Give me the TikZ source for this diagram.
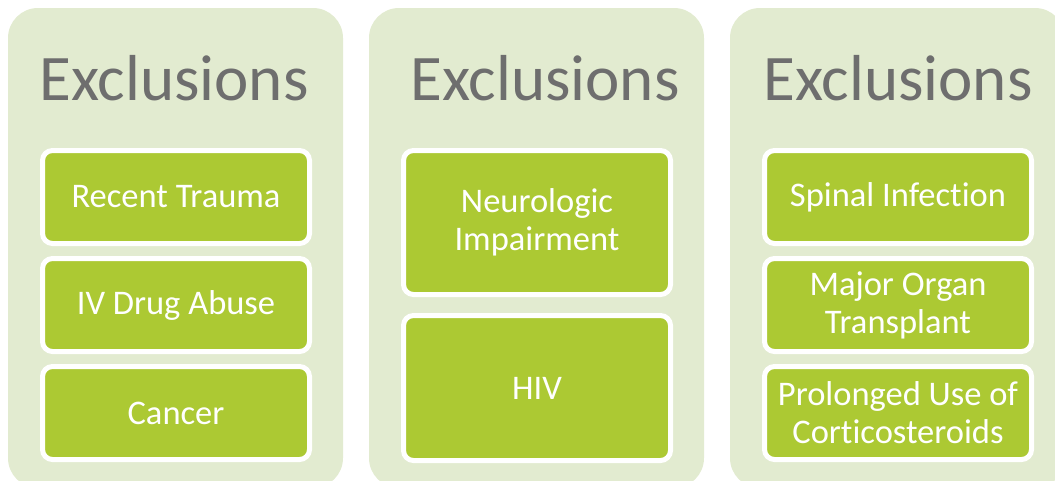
\documentclass[tikz,border=0pt]{standalone}
\usepackage{fontspec}
\setmainfont{Carlito}[Ligatures=NoCommon]
\definecolor{panelgreen}{HTML}{E2EBD0}
\definecolor{itemgreen}{HTML}{ACC933}
\definecolor{titlegray}{HTML}{6E6E6E}
\begin{document}
\begin{tikzpicture}[x=1pt,y=-1pt,
  panel/.style={fill=panelgreen,rounded corners=30pt},
  heading/.style={text=titlegray,font=\fontsize{65}{78}\selectfont,anchor=base},
  item/.style={fill=itemgreen,draw=white,line width=5pt,rounded corners=10pt,
    minimum width=267pt,minimum height=93pt,text=white,align=center,
    font=\fontsize{34.5}{38}\selectfont,inner sep=0pt}]
\useasboundingbox (0,0) rectangle (1055,480);
\clip (0,0) rectangle (1055,480);
\begin{scope}[shift={(8,8)}]
\path[panel] (0,0) rectangle (335,480);
\node[heading] (h1) at (166,92) {Exclusions};
\node[item] (r1) at (168,189) {Recent Trauma};
\node[item] (r2) at (168,297) {IV Drug Abuse};
\node[item] (r3) at (168,405) {Cancer};
\end{scope}
\begin{scope}[shift={(369,8)}]
\path[panel] (0,0) rectangle (335,480);
\node[heading] (h2) at (176,92) {Exclusions};
\node[item,minimum height=144pt] (n1) at (168,214.5) {Neurologic\\Impairment};
\node[item,minimum height=145pt] (n2) at (168,380) {HIV};
\end{scope}
\begin{scope}[shift={(730,8)}]
\path[panel] (0,0) rectangle (335,480);
\node[heading] (h3) at (168,92) {Exclusions};
\node[item] (s1) at (168,189) {Spinal Infection};
\node[item] (s2) at (168,297) {Major Organ\\Transplant};
\node[item] (s3) at (168,405) {Prolonged Use of\\Corticosteroids};
\end{scope}
\end{tikzpicture}
\end{document}
